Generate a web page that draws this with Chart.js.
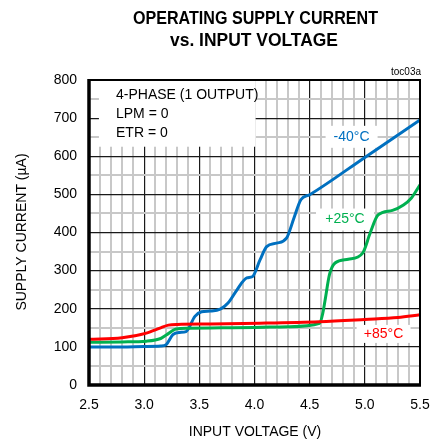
<!DOCTYPE html>
<html>
<head>
<meta charset="utf-8">
<script src="https://cdn.jsdelivr.net/npm/chart.js@4"></script>
<style>
  html, body { margin: 0; padding: 0; background: #fff; }
  #wrap { width: 443px; height: 445px; }
</style>
</head>
<body>
<div id="wrap"><canvas id="grafico" width="443" height="445"></canvas></div>
<script>
// dados (V, µA)
const voltsMinus40 = [2.5, 2.8, 3.0, 3.15, 3.2, 3.26, 3.32, 3.38, 3.46, 3.52, 3.6, 3.69, 3.76, 3.84, 3.93, 3.98, 4.05, 4.11, 4.2, 4.29, 4.36, 4.42, 4.5, 5.0, 5.5];
const currMinus40  = [100, 100, 101, 102, 106, 132, 138, 140, 180, 192, 194, 199, 215, 249, 281, 284, 328, 363, 372, 385, 440, 486, 499, 597, 695];

const volts25 = [2.5, 2.8, 3.02, 3.15, 3.2, 3.29, 3.4, 3.7, 4.0, 4.3, 4.59, 4.62, 4.64, 4.68, 4.73, 4.85, 4.98, 5.05, 5.12, 5.25, 5.35, 5.42, 5.5];
const curr25  = [112, 113, 115, 122, 131, 147, 149, 150, 151, 153, 162, 190, 223, 290, 320, 330, 346, 400, 446, 458, 472, 490, 525];

const volts85 = [2.5, 2.8, 3.02, 3.15, 3.22, 3.3, 3.6, 4.05, 4.59, 5.0, 5.3, 5.5];
const curr85  = [120, 124, 136, 150, 157, 159, 160, 162, 166, 172, 177, 184];

const xTicksMajor = [2.5, 3.0, 3.5, 4.0, 4.5, 5.0, 5.5];
const yTicksMajor = [0, 100, 200, 300, 400, 500, 600, 700, 800];

const pontos = (xs, ys) => xs.map((x, i) => ({ x: x, y: ys[i] }));
const ehMaior = (v, lista) => lista.some(t => Math.abs(t - v) < 1e-6);

const fonte = "'Liberation Sans', Arial, sans-serif";

// texto ajustado na horizontal para ocupar uma largura
function textoEstreito(ctx, txt, cx, cy, largura) {
  const k = largura / ctx.measureText(txt).width;
  ctx.save();
  ctx.translate(cx, cy);
  ctx.scale(k, 1);
  ctx.fillText(txt, 0, 0);
  ctx.restore();
}

// textos e caixas brancas desenhados por cima da grade
const anotacoes = {
  id: 'anotacoes',
  beforeDatasetsDraw(chart) {
    const { ctx, scales: { x, y } } = chart;
    ctx.save();
    ctx.fillStyle = '#fff';
    // caixa da legenda
    ctx.fillRect(x.getPixelForValue(2.59), y.getPixelForValue(800), x.getPixelForValue(4.01) - x.getPixelForValue(2.59), y.getPixelForValue(625) - y.getPixelForValue(800));
    const caixa = (vx, vy, w, h) => {
      const px = x.getPixelForValue(vx), py = y.getPixelForValue(vy);
      ctx.fillRect(px - w / 2, py - h / 2, w, h);
    };
    caixa(4.88, 651, 52, 22);
    caixa(4.82, 434, 58, 22);
    caixa(5.17, 134, 54, 18);
    ctx.restore();
  },
  afterDraw(chart) {
    const { ctx, chartArea: a, scales: { x, y } } = chart;
    ctx.save();
    // moldura
    ctx.strokeStyle = '#000';
    ctx.lineWidth = 2;
    ctx.strokeRect(a.left, a.top, a.right - a.left, a.bottom - a.top);
    ctx.lineWidth = 3.5;
    ctx.beginPath();
    ctx.moveTo(a.left, a.top - 1);
    ctx.lineTo(a.left, a.bottom);
    ctx.lineTo(a.right + 1, a.bottom);
    ctx.stroke();

    // título
    ctx.fillStyle = '#000';
    ctx.textAlign = 'center';
    ctx.textBaseline = 'middle';
    ctx.font = "bold 19px 'Liberation Sans Narrow', 'Liberation Sans', Arial, sans-serif";
    textoEstreito(ctx, 'OPERATING SUPPLY CURRENT', 255.5, 19, 245);
    textoEstreito(ctx, 'vs. INPUT VOLTAGE', 254, 41, 168);

    ctx.font = '10px ' + fonte;
    ctx.textAlign = 'right';
    ctx.fillText('toc03a', 421, 72);

    // títulos dos eixos
    ctx.font = '14px ' + fonte;
    ctx.textAlign = 'center';
    ctx.fillText('INPUT VOLTAGE (V)', 255, 432);
    ctx.save();
    ctx.translate(22, 232);
    ctx.rotate(-Math.PI / 2);
    ctx.fillText('SUPPLY CURRENT (µA)', 0, 0);
    ctx.restore();

    // legenda
    ctx.textAlign = 'left';
    ctx.fillText('4-PHASE (1 OUTPUT)', 116, 95);
    ctx.fillText('LPM = 0', 116, 114);
    ctx.fillText('ETR = 0', 116, 133);

    ctx.textAlign = 'center';
    ctx.fillStyle = '#0070c0';
    ctx.fillText('-40°C', x.getPixelForValue(4.88), y.getPixelForValue(651));
    ctx.fillStyle = '#00b050';
    ctx.fillText('+25°C', x.getPixelForValue(4.82), y.getPixelForValue(434));
    ctx.fillStyle = '#ff0000';
    ctx.fillText('+85°C', x.getPixelForValue(5.17), y.getPixelForValue(134));
    ctx.restore();
  }
};

const serie = (xs, ys, cor) => ({
  data: pontos(xs, ys),
  borderColor: cor,
  borderWidth: 3,
  pointRadius: 0,
  fill: false,
  cubicInterpolationMode: 'monotone'
});

new Chart(document.getElementById('grafico').getContext('2d'), {
  type: 'line',
  data: {
    datasets: [
      serie(volts85, curr85, '#ff0000'),
      serie(volts25, curr25, '#00b050'),
      serie(voltsMinus40, currMinus40, '#0070c0')
    ]
  },
  options: {
    responsive: false,
    animation: false,
    layout: { padding: { top: 80, right: 23, left: 0, bottom: 0 } },
    plugins: { legend: { display: false }, tooltip: { enabled: false }, title: { display: false } },
    scales: {
      x: {
        type: 'linear',
        min: 2.5,
        max: 5.5,
        afterFit: s => { s.height = 60; },
        afterBuildTicks: s => {
          const t = [];
          for (let i = 0; i <= 30; i++) t.push({ value: +(2.5 + i * 0.1).toFixed(1) });
          s.ticks = t;
        },
        ticks: {
          autoSkip: false,
          maxRotation: 0,
          padding: 12,
          color: '#000',
          font: { family: fonte, size: 14 },
          callback: v => ehMaior(v, xTicksMajor) ? v.toFixed(1) : ''
        },
        grid: {
          drawTicks: false,
          color: c => ehMaior(c.tick.value, xTicksMajor) ? '#1a1a1a' : '#c8c8c8',
          lineWidth: c => ehMaior(c.tick.value, xTicksMajor) ? 1.2 : 2
        },
        border: { display: false }
      },
      y: {
        min: 0,
        max: 800,
        afterFit: s => { s.width = 89; },
        afterBuildTicks: s => {
          const t = [];
          for (let i = 0; i <= 16; i++) t.push({ value: i * 50 });
          s.ticks = t;
        },
        ticks: {
          autoSkip: false,
          padding: 12,
          color: '#000',
          font: { family: fonte, size: 14 },
          callback: v => ehMaior(v, yTicksMajor) ? String(v) : ''
        },
        grid: {
          drawTicks: false,
          color: c => ehMaior(c.tick.value, yTicksMajor) ? '#1a1a1a' : '#c8c8c8',
          lineWidth: c => ehMaior(c.tick.value, yTicksMajor) ? 1.2 : 2
        },
        border: { display: false }
      }
    }
  },
  plugins: [anotacoes]
});
</script>
</body>
</html>
